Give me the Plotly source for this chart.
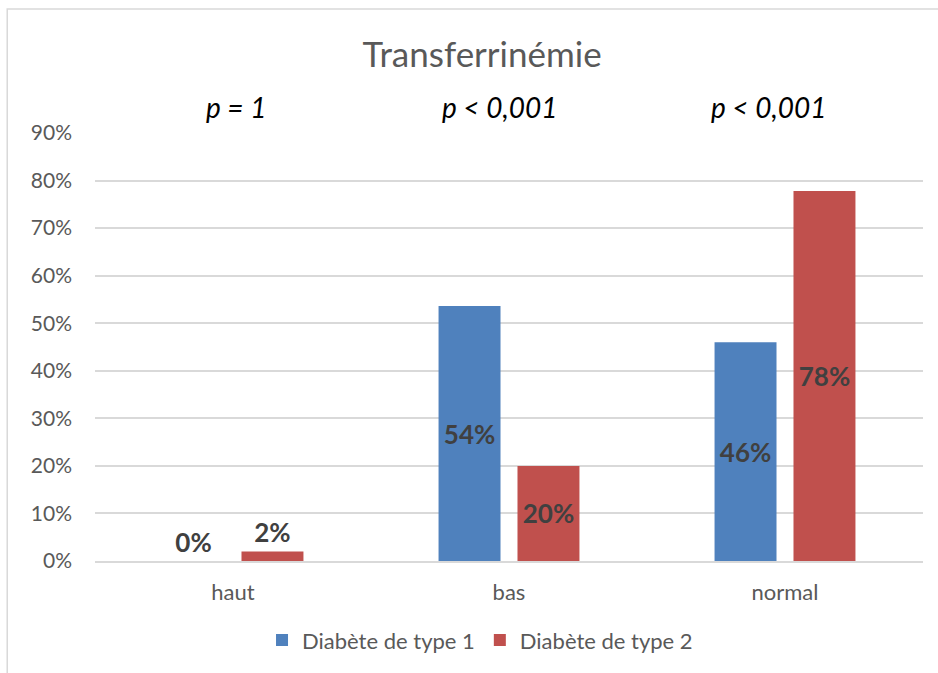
import plotly.graph_objects as go

categories = ['haut', 'bas', 'normal']
type1_values = [0.0, 0.536, 0.46]
type2_values = [0.02, 0.20, 0.778]
type1_textpos = ['outside', 'inside', 'inside']
type2_textpos = ['outside', 'inside', 'inside']
p_values = ['p = 1', 'p < 0,001', 'p < 0,001']
p_x = [0.170, 0.489, 0.813]
series_names = ['Diabète de type 1', 'Diabète de type 2']
y_ticks = [0, 0.1, 0.2, 0.3, 0.4, 0.5, 0.6, 0.7, 0.8, 0.9]

font_family = 'Lato, Open Sans, sans-serif'
label_font = dict(family=font_family, size=26, color='#404040')

fig = go.Figure()
fig.add_trace(go.Bar(
    x=categories, y=type1_values, name=series_names[0],
    marker=dict(color='#4F81BD', line=dict(width=0)),
    texttemplate='<b>%{y:.0%}</b>', textposition=type1_textpos,
    insidetextanchor='middle', textfont=label_font,
    insidetextfont=label_font, outsidetextfont=label_font,
    cliponaxis=False,
))
fig.add_trace(go.Bar(
    x=categories, y=type2_values, name=series_names[1],
    marker=dict(color='#C0504D', line=dict(width=0)),
    texttemplate='<b>%{y:.0%}</b>', textposition=type2_textpos,
    insidetextanchor='middle', textfont=label_font,
    insidetextfont=label_font, outsidetextfont=label_font,
    cliponaxis=False,
))

for px_, p in zip(p_x, p_values):
    fig.add_annotation(
        x=px_, y=1.06, xref='paper', yref='paper', text=f'<i>{p}</i>',
        showarrow=False, yanchor='middle', xanchor='center',
        font=dict(family=font_family, size=28, color='#000000'),
    )

# chart border
fig.add_shape(
    type='rect', xref='paper', yref='paper',
    x0=-0.106, x1=1.03, y0=-0.30, y1=1.29,
    line=dict(color='#D9D9D9', width=1.5), fillcolor='rgba(0,0,0,0)',
    layer='below',
)

fig.update_layout(
    width=938, height=673,
    margin=dict(l=95, r=15, t=133, b=112, autoexpand=False),
    paper_bgcolor='white', plot_bgcolor='white',
    font=dict(family=font_family, size=20, color='#595959'),
    title=dict(text='Transferrinémie', x=0.514, xanchor='center', xref='container',
               y=1 - 55 / 673, yanchor='middle',
               font=dict(family=font_family, size=35, color='#595959')),
    barmode='group', bargap=0.428, bargroupgap=0.215,
    showlegend=True,
    legend=dict(orientation='h', x=0.465, xanchor='center', y=-0.185, yanchor='middle',
                font=dict(family=font_family, size=22, color='#595959'),
                itemwidth=30, traceorder='normal'),
    xaxis=dict(showgrid=False, showline=True, linecolor='#D9D9D9', linewidth=1.5,
               ticks='', ticklabelstandoff=11, automargin=False,
               tickfont=dict(family=font_family, size=22, color='#595959')),
    yaxis=dict(range=[0, 0.9], tickvals=y_ticks, tickformat='.0%',
               showgrid=True, gridcolor='#D9D9D9', gridwidth=1.5,
               zeroline=False, showline=False, ticks='', ticklabelstandoff=22,
               automargin=False,
               tickfont=dict(family=font_family, size=21, color='#595959')),
)

fig.write_html('out.html', config={'displayModeBar': False},
               post_script="document.body.style.margin='0';")
